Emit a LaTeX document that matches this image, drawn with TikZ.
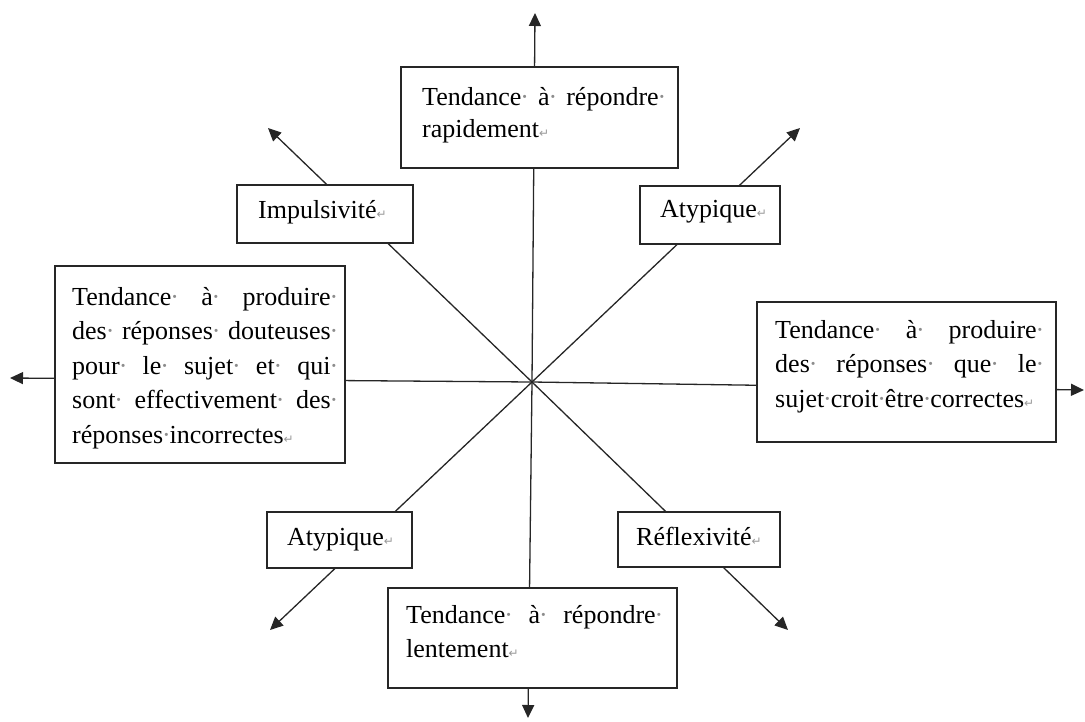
\documentclass[tikz,border=0pt]{standalone}
\usepackage{fontspec}
\setmainfont{Liberation Serif}
\newfontfamily\dejavu{DejaVu Sans}
\usetikzlibrary{arrows.meta}
\newcommand\sdot{\makebox[0.25em]{\textcolor{black!45}{·}}\nobreak\hspace{0pt plus 3em}}
\newcommand\edot{\makebox[0.25em]{\textcolor{black!45}{·}}}
\newcommand\pmark{\textcolor{black!40}{\dejavu\fontsize{12}{12}\selectfont ↵}}
\newcommand\bodyfont[1]{\hyphenpenalty=10000\exhyphenpenalty=10000\fontsize{26}{#1}\selectfont}
\tikzset{
  ray/.style={draw=black!85, line width=1.3pt, -{Triangle[length=13pt,width=12pt]}},
  box/.style={draw=black!85, line width=1.5pt, fill=white, inner sep=0pt},
  txt/.style={inner sep=0pt, anchor=base west, text=black}
}
\begin{document}
\begin{tikzpicture}[x=1pt,y=-1pt]
\useasboundingbox (0,0) rectangle (1085,721);
% centre and arrow tips
\coordinate (C) at (532,382);
\coordinate (tN) at (535,13);
\coordinate (tS) at (528,718);
\coordinate (tW) at (10,378);
\coordinate (tE) at (1084,390);
\coordinate (tNW) at (268,128);
\coordinate (tNE) at (800,128);
\coordinate (tSW) at (270,630);
\coordinate (tSE) at (788,630);
\foreach \t in {tN,tS,tW,tE,tNW,tNE,tSW,tSE}{\draw[ray] (C) -- (\t);}
% boxes
\node[box, minimum width=277pt, minimum height=101pt] (bN) at (539.5,117.5) {};
\node[box, minimum width=176pt, minimum height=58pt] (bNW) at (325,214) {};
\node[box, minimum width=140pt, minimum height=58pt] (bNE) at (710,215) {};
\node[box, minimum width=290pt, minimum height=197pt] (bW) at (200,364.5) {};
\node[box, minimum width=299pt, minimum height=140pt] (bE) at (906.5,372) {};
\node[box, minimum width=145pt, minimum height=56pt] (bSW) at (339.5,540) {};
\node[box, minimum width=162pt, minimum height=55pt] (bSE) at (699,539.5) {};
\node[box, minimum width=289pt, minimum height=100pt] (bS) at (532.5,638) {};
% texts
\node[txt] (xN) at (422,105) {\parbox[t]{243pt}{\bodyfont{32}Tendance\sdot à\sdot répondre\edot\linebreak rapidement\pmark}};
\node[txt] (xNW) at (258,218) {\bodyfont{30}Impulsivité\pmark};
\node[txt] (xNE) at (660,217) {\bodyfont{30}Atypique\pmark};
\node[txt] (xW) at (72,305) {\parbox[t]{265pt}{\bodyfont{34.5}Tendance\sdot à\sdot produire\edot\linebreak des\sdot réponses\sdot douteuses\edot\linebreak pour\sdot le\sdot sujet\sdot et\sdot qui\edot\linebreak sont\sdot effectivement\sdot des\edot\linebreak réponses\sdot incorrectes\pmark}};
\node[txt] (xE) at (775,338) {\parbox[t]{268pt}{\bodyfont{34.5}Tendance\sdot à\sdot produire\edot\linebreak des\sdot réponses\sdot que\sdot le\edot\linebreak sujet\sdot croit\sdot être\sdot correctes\pmark}};
\node[txt] (xSW) at (287,545) {\bodyfont{30}Atypique\pmark};
\node[txt] (xSE) at (636,545) {\bodyfont{30}Réflexivité\pmark};
\node[txt] (xS) at (406,623) {\parbox[t]{256pt}{\bodyfont{34}Tendance\sdot à\sdot répondre\edot\linebreak lentement\pmark}};
\end{tikzpicture}
\end{document}
